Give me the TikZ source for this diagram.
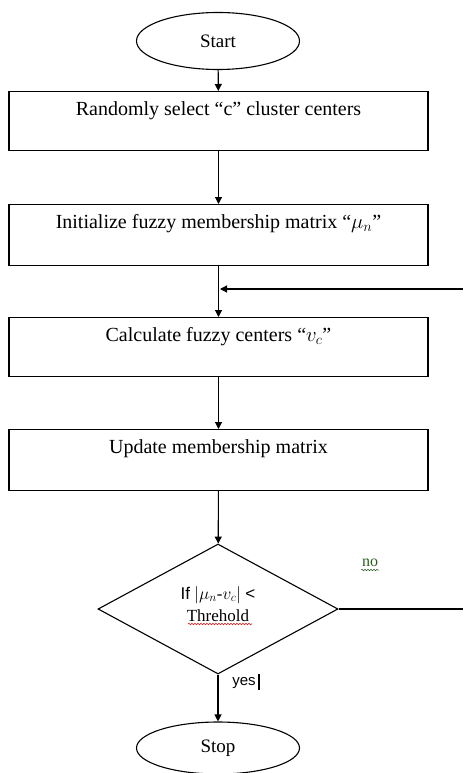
\documentclass[tikz,border=0pt]{standalone}
\usepackage{fontspec}
\setmainfont{Liberation Serif}
\newfontfamily\sansf{Liberation Sans}
\usetikzlibrary{shapes.geometric,arrows.meta,decorations.pathmorphing}
\definecolor{nogreen}{RGB}{40,95,30}
\definecolor{wavyred}{RGB}{220,30,30}
\tikzset{
  conn/.style={line width=1.1pt,-{Triangle[length=7pt,width=7pt]}},
  plain/.style={line width=1.1pt},
  term/.style={ellipse,draw,line width=1.1pt,minimum width=163pt,inner sep=0pt,font=\fontsize{19}{22}\selectfont},
  procbox/.style={rectangle,draw,line width=1.1pt,minimum width=419pt,inner ysep=0pt,text height=24pt,text depth=35pt,anchor=north,font=\fontsize{20}{24}\selectfont},
  decision/.style={diamond,draw,line width=1.1pt,minimum width=240pt,minimum height=130pt,inner sep=0pt},
  dtext/.style={align=center,inner sep=0pt,font=\fontsize{17}{22}\selectfont},
  wavy/.style={decorate,decoration={snake,segment length=3pt,amplitude=0.8pt},line width=0.6pt}
}
\begin{document}
\begin{tikzpicture}[x=1pt,y=1pt]
\useasboundingbox (0,0) rectangle (463,-773);
\node[term,minimum height=57pt] (start) at (218,-41) {Start};
\node[procbox] (b1) at (218.5,-91) {Randomly select “c” cluster centers};
\node[procbox,text depth=37pt] (b2) at (218.5,-204) {Initialize fuzzy membership matrix “$\mu_n$”};
\node[procbox] (b3) at (218.5,-317) {Calculate fuzzy centers “$v_c$”};
\node[procbox,text depth=37pt] (b4) at (218.5,-429) {Update membership matrix};
\node[decision] (dec) at (218,-609) {};
\node[dtext] (dect) at (218,-604) {{\sansf If} $|\mu_n$-$v_c|$ {\sansf <}\\Threhold};
\node[term,minimum height=52pt] (stop) at (218,-748) {Stop};
\node[font=\fontsize{15}{18}\selectfont\sansf,inner sep=0pt] (yes) at (244,-683) {yes};
\node[font=\fontsize{16}{18}\selectfont,text=nogreen,inner sep=0pt] (no) at (370,-563) {no};
\coordinate (fbR) at (463,-289);
\coordinate (fbJ) at (220,-289);
\coordinate (noR) at (463,-609);
\draw[conn] (start) -- (b1);
\draw[conn] (b1) -- (b2);
\draw[conn] (b2) -- (b3);
\draw[conn] (b3) -- (b4);
\draw[conn] (b4) -- (dec);
\draw[conn] (dec) -- (stop);
\draw[plain] (dec.east) -- (noR);
\draw[conn] (fbR) -- (fbJ);
\draw[wavy,wavyred] (188,-624) -- (252,-624);
\draw[wavy,nogreen,line width=0.5pt] (361,-570) -- (379,-570);
\fill (257.5,-674) rectangle (260,-690);
\end{tikzpicture}
\end{document}
